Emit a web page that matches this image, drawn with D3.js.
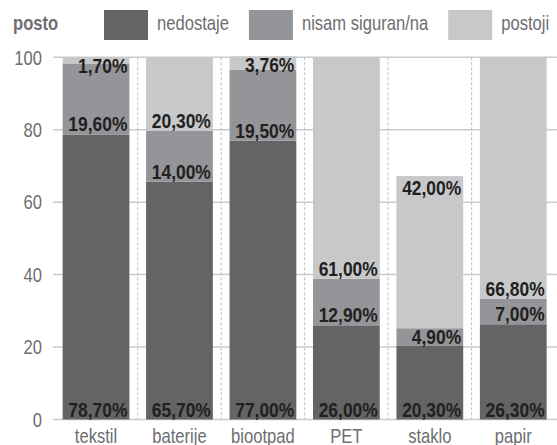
<!DOCTYPE html>
<html>
<head>
<meta charset="utf-8">
<script src="https://cdn.jsdelivr.net/npm/d3@7"></script>
<style>
  body { margin: 0; background: #fff; }
  svg { display: block; font-family: "Liberation Sans", Arial, sans-serif; }
  .grid line { stroke: #cacbcd; stroke-width: 1.5; }
  .sep { stroke: #bfc0c2; stroke-width: 1; stroke-dasharray: 3,2; }
  .tick-label { fill: #6d6e71; font-size: 20px; }
  .cat-label { fill: #6d6e71; font-size: 20px; }
  .val-label { fill: #231f20; font-size: 21px; font-weight: bold; }
  .legend text { fill: #6d6e71; font-size: 20px; }
</style>
</head>
<body>
<div id="chart"></div>
<script>
// data
var categories = ["tekstil", "baterije", "biootpad", "PET", "staklo", "papir"];
var seriesNames = ["nedostaje", "nisam siguran/na", "postoji"];
var nedostaje = [78.7, 65.7, 77.0, 26.0, 20.3, 26.3];
var nisamSiguran = [19.6, 14.0, 19.5, 12.9, 4.9, 7.0];
var postoji = [1.7, 20.3, 3.76, 61.0, 42.0, 66.8];
var yTicks = [0, 20, 40, 60, 80, 100];
var yTitle = "posto";

var colors = ["#636466", "#939598", "#c7c8ca"];

var width = 557, height = 445;
var margin = {top: 57.3, right: 2, bottom: 25.5, left: 54.3};

// no narrow font installed, so squeeze the normal one
var narrow = 0.83;

// place a text at x,y squeezed horizontally
function putText(sel, px, py) {
  return sel.attr("transform", "translate(" + px + "," + py + ") scale(" + narrow + ",1)");
}

// table for d3.stack
var table = categories.map(function (c, i) {
  return {cat: c, "nedostaje": nedostaje[i], "nisam siguran/na": nisamSiguran[i], "postoji": postoji[i]};
});

var stacked = d3.stack().keys(seriesNames)(table);

var svg = d3.select("#chart").append("svg")
  .attr("width", width)
  .attr("height", height);

var x = d3.scaleBand()
  .domain(categories)
  .range([margin.left, width - margin.right])
  .paddingInner(0.2)
  .paddingOuter(0.1);

var y = d3.scaleLinear()
  .domain([0, 100])
  .range([height - margin.bottom, margin.top]);

// horizontal grid lines
svg.append("g").attr("class", "grid")
  .selectAll("line")
  .data(yTicks)
  .enter().append("line")
  .attr("x1", 53)
  .attr("x2", width)
  .attr("y1", function (d) { return y(d); })
  .attr("y2", function (d) { return y(d); });

// y tick labels
yTicks.forEach(function (d) {
  putText(svg.append("text"), 42, y(d))
    .attr("class", "tick-label")
    .attr("dy", "0.36em")
    .attr("text-anchor", "end")
    .text(d);
});

// dashed separators between the bars
var step = x.step();
svg.append("g")
  .selectAll("line")
  .data(categories.slice(1))
  .enter().append("line")
  .attr("class", "sep")
  .attr("x1", function (d) { return x(d) - (step - x.bandwidth()) / 2; })
  .attr("x2", function (d) { return x(d) - (step - x.bandwidth()) / 2; })
  .attr("y1", y(100))
  .attr("y2", y(0));

// bars
var layers = svg.append("g")
  .selectAll("g")
  .data(stacked)
  .enter().append("g")
  .attr("fill", function (d, i) { return colors[i]; });

layers.selectAll("rect")
  .data(function (d) { return d; })
  .enter().append("rect")
  .attr("x", function (d) { return x(d.data.cat); })
  .attr("width", x.bandwidth())
  .attr("y", function (d) { return y(d[1]); })
  .attr("height", function (d) { return y(d[0]) - y(d[1]); });

// value labels, at the bottom of each segment
var fmt = function (v) { return d3.format(".2f")(v).replace(".", ",") + "%"; };

stacked.forEach(function (layer, li) {
  layer.forEach(function (d) {
    var top = y(d[1]), bottom = y(d[0]);
    var ly = Math.max(bottom - 3, top + 16);
    // open bar (does not reach 100): label sits at the top
    if (li == stacked.length - 1 && d[1] < 99) ly = top + 19;
    putText(svg.append("text"), x(d.data.cat) + x.bandwidth() - 2, ly)
      .attr("class", "val-label")
      .attr("text-anchor", "end")
      .text(fmt(d[1] - d[0]));
  });
});

// category labels
categories.forEach(function (d) {
  putText(svg.append("text"), x(d) + x.bandwidth() / 2, 443)
    .attr("class", "cat-label")
    .attr("text-anchor", "middle")
    .text(d);
});

// legend
var legend = svg.append("g").attr("class", "legend");

putText(legend.append("text"), 13, 30)
  .style("font-weight", "bold")
  .text(yTitle);

var lx = 104;
seriesNames.forEach(function (name, i) {
  legend.append("rect")
    .attr("x", lx)
    .attr("y", 10)
    .attr("width", 44)
    .attr("height", 30)
    .attr("fill", colors[i]);
  var t = putText(legend.append("text"), lx + 53, 30)
    .text(name);
  lx = lx + 53 + t.node().getComputedTextLength() * narrow + 20;
});
</script>
</body>
</html>
